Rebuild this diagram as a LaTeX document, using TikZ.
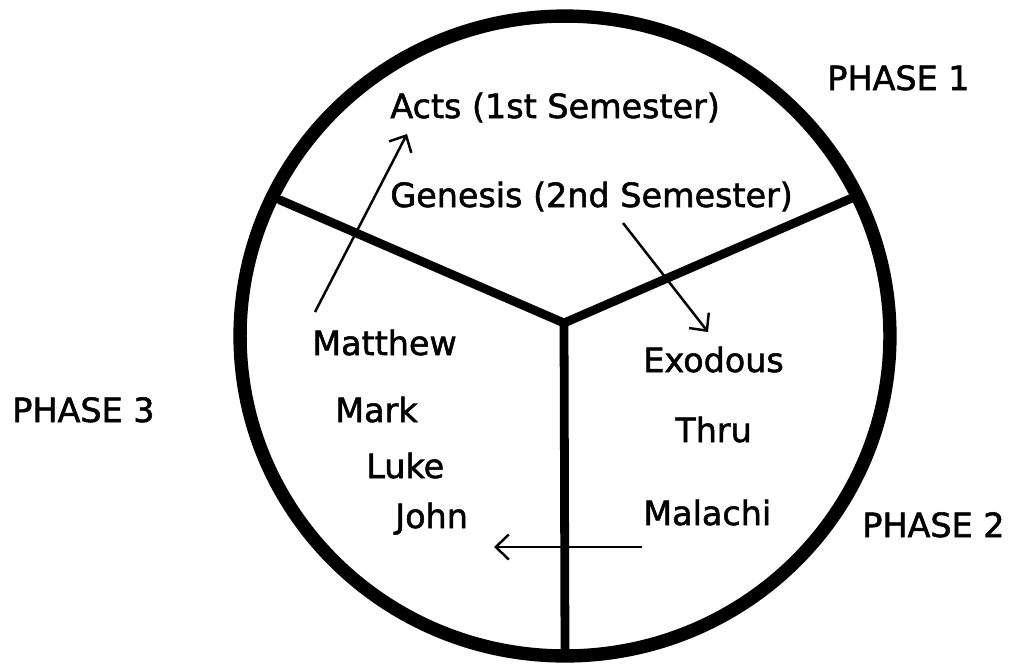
\documentclass[tikz,border=0pt]{standalone}
\usepackage{fontspec}
\setmainfont{DejaVu Sans}
\newfontfamily\lblfont[BoldFont={DejaVu Sans}, BoldFeatures={FakeBold=1.6}]{DejaVu Sans}
\usetikzlibrary{arrows.meta, positioning, calc}
\begin{document}
\begin{tikzpicture}[x=0.02cm, y=-0.02cm,
		lbl/.style={anchor=base west, inner sep=0pt,
			font=\lblfont\bfseries\fontsize{19}{22}\selectfont},
		rim/.style={line width=7.6pt},
		spoke/.style={line width=5pt, line cap=round, line join=round},
		arr/.style={-{Straight Barb[length=2.6mm, width=5mm, line width=1.4pt]},
			line width=1.4pt}
		]
		\useasboundingbox (0,0) rectangle (1013,664);
		
		% Cercle et rayons
		\coordinate (hub)  at (564,323);
		\coordinate (endL) at (280,200);
		\coordinate (endR) at (852,198);
		\coordinate (endB) at (565,656);
		\draw[rim] (565,336) ellipse [x radius=6.5cm, y radius=6.4cm];
		\draw[spoke] (endL) -- (hub) -- (endR);
		\draw[spoke] (hub) -- (endB);
		
		% Phases
		\node[lbl] (phase1) at (827,90)  {PHASE 1};
		\node[lbl] (phase2) at (862,537) {PHASE 2};
		\node[lbl] (phase3) at (12,422)  {PHASE 3};
		
		% Livres
		\node[lbl] (acts)    at (390,118) {Acts (1st Semester)};
		\node[lbl] (genesis) at (390,207) {Genesis (2nd Semester)};
		\node[lbl] (matthew) at (312,355) {Matthew};
		\node[lbl] (mark)    at (335,422) {Mark};
		\node[lbl] (luke)    at (366,478) {Luke};
		\node[lbl] (john)    at (395,528) {John};
		\node[lbl] (exodous) at (643,372) {Exodous};
		\node[lbl] (thru)    at (675,442) {Thru};
		\node[lbl] (malachi) at (643,525) {Malachi};
		
		% Fleches
		\coordinate (fromMatthew) at (315,312);
		\coordinate (toActs)      at (407,134);
		\coordinate (fromGenesis) at (623,223);
		\coordinate (toExodous)   at (708,332);
		\coordinate (fromMalachi) at (642,547);
		\coordinate (toJohn)      at (494,547);
		\draw[arr] (fromMatthew) -- (toActs);
		\draw[arr] (fromGenesis) -- (toExodous);
		\draw[arr] (fromMalachi) -- (toJohn);
	\end{tikzpicture}
\end{document}
